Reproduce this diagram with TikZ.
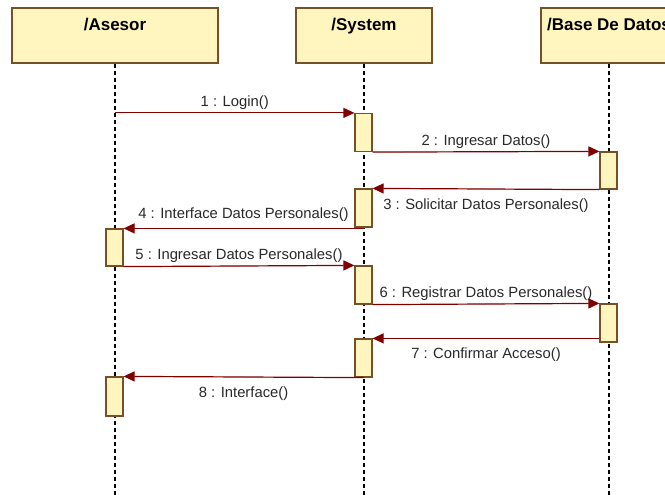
\documentclass[tikz,border=0pt]{standalone}
\usepackage{fontspec}
\setmainfont{Liberation Sans}
\usetikzlibrary{arrows.meta}
\definecolor{boxfill}{RGB}{255,245,190}
\definecolor{boxline}{RGB}{120,80,40}
\definecolor{msgred}{RGB}{128,0,0}
\definecolor{lbltext}{RGB}{40,40,40}

\begin{document}
\begin{tikzpicture}[x=1pt, y=-1pt, >={Triangle[length=11pt,width=10pt]},
    actor/.style={draw=boxline, fill=boxfill, line width=1.2pt, minimum height=55pt, inner ysep=4pt, text height=19pt, text depth=28pt, font=\fontsize{17}{20}\selectfont\bfseries},
    activ/.style={draw=boxline, fill=boxfill, line width=1.2pt, minimum width=17pt, minimum height=38pt, inner sep=0pt},
    lifeline/.style={line width=1.2pt, dash pattern=on 4pt off 3pt},
    msg/.style={->, draw=msgred, fill=msgred, line width=1.2pt},
    lbl/.style={font=\fontsize{14.8}{17}\selectfont, text=lbltext, fill=none, inner sep=3pt},
]
\clip (0,0) rectangle (665,495);
\node[actor, minimum width=206pt] (asesor) at (115,35.5) {/Asesor};
\node[actor, minimum width=136pt] (system) at (364,35.5) {/System};
\node[actor, minimum width=136pt] (base) at (609,35.5) {/Base De Datos};
\coordinate (asesorEnd) at (115,500); \coordinate (systemEnd) at (364,500); \coordinate (baseEnd) at (609,500);
\draw[lifeline] (asesor.south) -- (asesorEnd); \draw[lifeline] (system.south) -- (systemEnd); \draw[lifeline] (base.south) -- (baseEnd);
\node[activ] (S1) at (363.5,132.5) {};
\node[activ, minimum height=37pt] (B1) at (608.5,170.5) {};
\node[activ] (S2) at (363.5,208) {};
\node[activ, minimum height=37pt] (A1) at (114.5,247.5) {};
\node[activ] (S3) at (363.5,285) {};
\node[activ] (B2) at (608.5,323) {};
\node[activ] (S4) at (363.5,358) {};
\node[activ, minimum height=39pt] (A2) at (114.5,396.5) {};
\coordinate (m1) at (asesor.south |- S1.north);
\coordinate (m4) at (S2.south |- A1.north);
\coordinate (m7) at (B2.west |- S4.north);
\draw[msg] (m1) -- node[lbl, above] {1 : Login()} (S1.north west);
\draw[msg] (S1.south east) -- node[lbl, above] {2 : Ingresar Datos()} (B1.north west);
\draw[msg] (B1.south west) -- node[lbl, below=6pt] {3 : Solicitar Datos Personales()} (S2.north east);
\draw[msg] (m4) -- node[lbl, above=3pt] {4 : Interface Datos Personales()} (A1.north east);
\draw[msg] (A1.south east) -- node[lbl, above] {5 : Ingresar Datos Personales()} (S3.north west);
\draw[msg] (S3.south east) -- node[lbl, above] {6 : Registrar Datos Personales()} (B2.north west);
\draw[msg] (m7) -- node[lbl, below=6pt] {7 : Confirmar Acceso()} (S4.north east);
\draw[msg] (S4.south) -- node[lbl, below=6pt] {8 : Interface()} (A2.north east);
\end{tikzpicture}
\end{document}
